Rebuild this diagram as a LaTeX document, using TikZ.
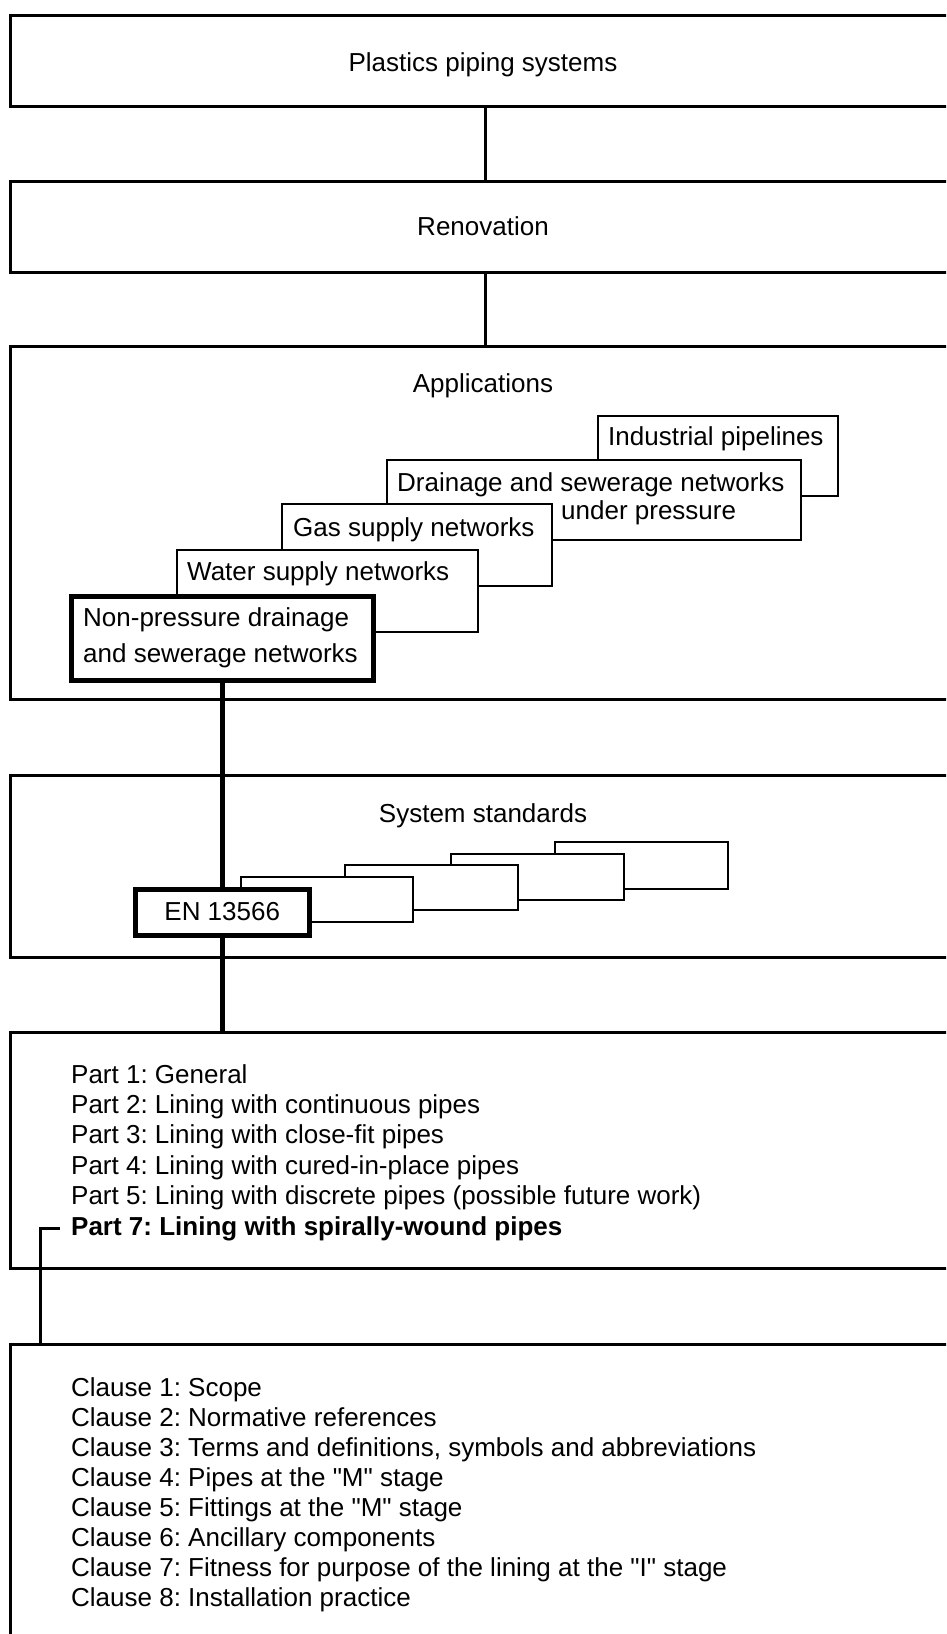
\documentclass[tikz,border=0pt]{standalone}
\usepackage{fontspec}
\setmainfont{Liberation Sans}
\newcommand{\dq}{\XeTeXglyph\XeTeXcharglyph"22\relax}
\frenchspacing
\begin{document}
\begin{tikzpicture}[x=1pt,y=-1pt,
 bigbox/.style={draw, line width=2.5pt, fill=white, inner sep=0pt, anchor=north west},
 subbox/.style={draw, line width=1.6pt, fill=white, inner sep=0pt, anchor=north west},
 keybox/.style={draw, line width=4.5pt, fill=white, inner sep=0pt, anchor=north west},
 txt/.style={inner sep=0pt, anchor=base west, font=\fontsize{26}{30}\selectfont},
 ctxt/.style={txt, anchor=base},
 link/.style={line width=3.5pt},
 keylink/.style={line width=4.5pt},
 partlink/.style={line width=3pt},
]
\useasboundingbox (0,0) rectangle (946,1634);
\clip (0,0) rectangle (946,1634);
% main boxes
\node[bigbox, minimum width=950pt, minimum height=91pt] (b1) at (9,14) {};
\node[bigbox, minimum width=950pt, minimum height=91pt] (b2) at (9,180) {};
\node[bigbox, minimum width=950pt, minimum height=353pt] (b3) at (9,345) {};
\node[bigbox, minimum width=950pt, minimum height=182pt] (b4) at (9,774) {};
\node[bigbox, minimum width=950pt, minimum height=236pt] (b5) at (9,1031) {};
\node[bigbox, minimum width=950pt, minimum height=320pt] (b6) at (9,1343) {};
\node[ctxt] (t1) at (483,71) {Plastics piping systems};
\node[ctxt] (t2) at (483,235) {Renovation};
\node[ctxt] (t3) at (483,392) {Applications};
\node[ctxt] (t4) at (483,822) {System standards};
% applications
\node[subbox, minimum width=240pt, minimum height=80pt] (ind) at (597,415) {};
\node[txt] (indt) at (608,445) {Industrial pipelines};
\node[subbox, minimum width=414pt, minimum height=80pt] (dr) at (386,459) {};
\node[txt] (drt1) at (397,491) {Drainage and sewerage networks};
\node[txt] (drt2) at (561,519) {under pressure};
\node[subbox, minimum width=270pt, minimum height=82pt] (gas) at (281,503) {};
\node[txt] (gast) at (293,536) {Gas supply networks};
\node[subbox, minimum width=301pt, minimum height=82pt] (wat) at (176,549) {};
\node[txt] (watt) at (187,580) {Water supply networks};
\node[keybox, minimum width=302pt, minimum height=84pt] (np) at (69,594) {};
\node[txt] (npt1) at (83,626) {Non-pressure drainage};
\node[txt] (npt2) at (83,662) {and sewerage networks};
% system standards
\node[subbox, minimum width=173pt, minimum height=47pt] (s4) at (554,841) {};
\node[subbox, minimum width=173pt, minimum height=46pt] (s3) at (450,853) {};
\node[subbox, minimum width=173pt, minimum height=45pt] (s2) at (344,864) {};
\node[subbox, minimum width=172pt, minimum height=45pt] (s1) at (240,876) {};
% parts
\foreach \t [count=\i from 0] in {Part 1: General, Part 2: Lining with continuous pipes, Part 3: Lining with close-fit pipes, Part 4: Lining with cured-in-place pipes, Part 5: Lining with discrete pipes (possible future work)}
  \node[txt] (p\i) at (71,1083+30.4*\i) {\t};
\node[txt, inner xsep=11pt, font=\fontsize{26}{30}\selectfont\bfseries] (p7) at (60,1235) {Part 7: Lining with spirally-wound pipes};
% clauses
\foreach \t [count=\i from 0] in {Clause 1: Scope, Clause 2: Normative references, Clause 3: Terms and definitions{,} symbols and abbreviations, Clause 4: Pipes at the \dq M\dq{} stage, Clause 5: Fittings at the \dq M\dq{} stage, Clause 6: Ancillary components, Clause 7: Fitness for purpose of the lining at the \dq I\dq{} stage, Clause 8: Installation practice}
  \node[txt] (c\i) at (71,1396+30.1*\i) {\t};
% connectors
\coordinate (k) at ([xshift=31pt]b6.north west);
\draw[link] (b1.south) -- (b2.north);
\draw[link] (b2.south) -- (b3.north);
\draw[keylink] (np.south) -- (np.south |- b5.north);
\draw[partlink] (p7.west) -| (k);
\node[keybox, minimum width=174pt, minimum height=46pt] (en) at (133,887) {};
\node[ctxt] (ent) at (en.center |- 0,920) {EN 13566};
\end{tikzpicture}
\end{document}
